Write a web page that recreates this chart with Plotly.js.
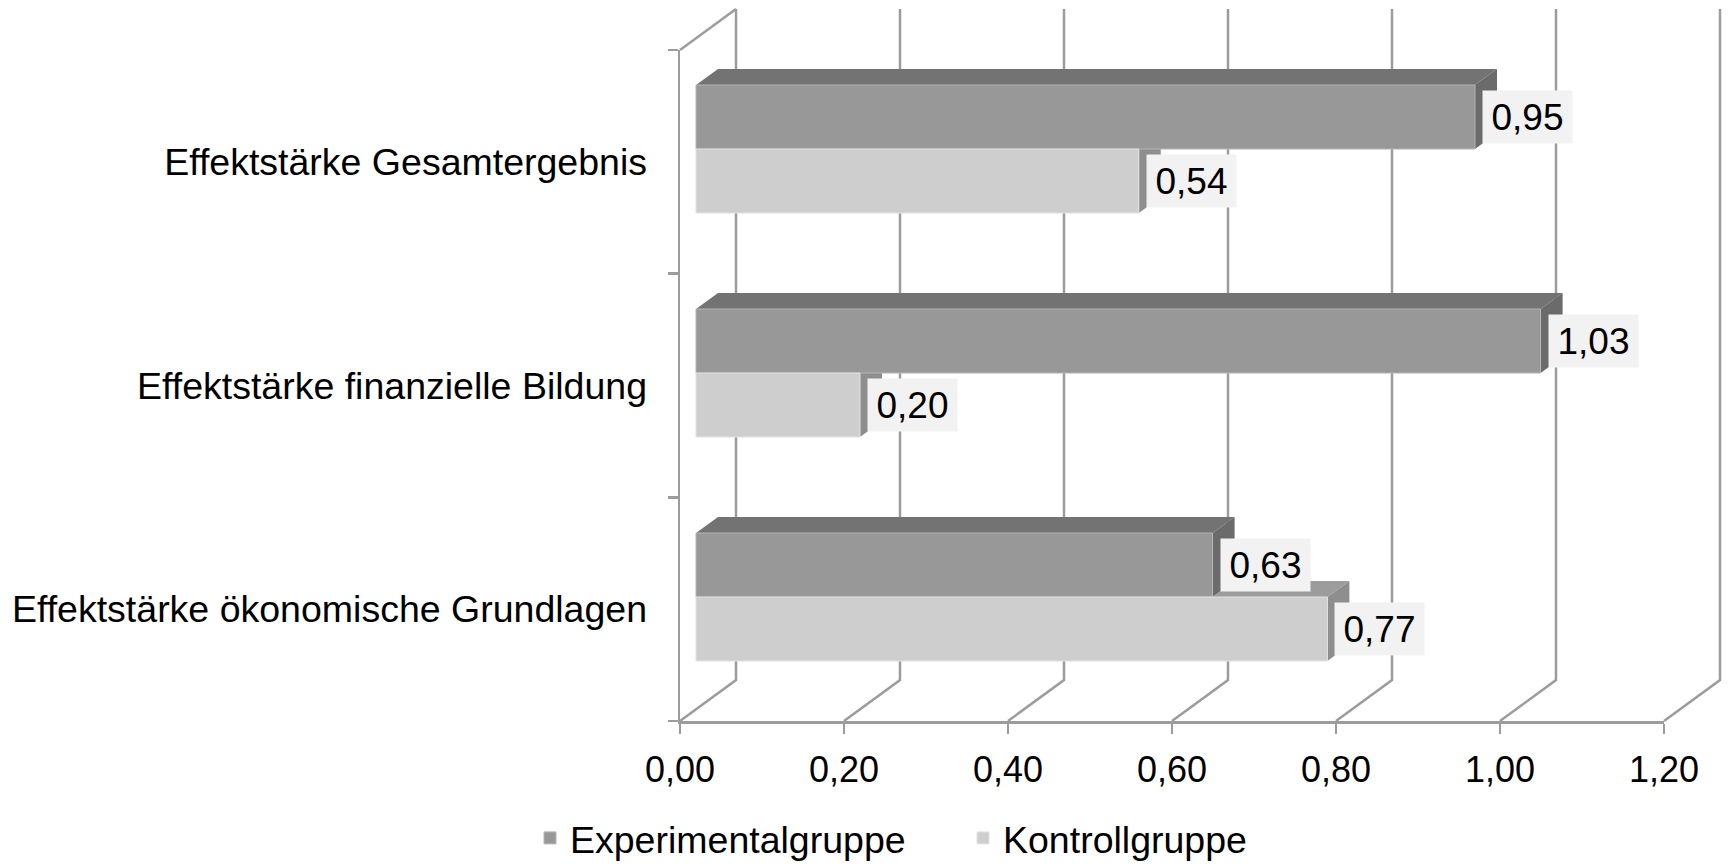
<!DOCTYPE html>
<html>
<head>
<meta charset="utf-8">
<script src="https://cdn.plot.ly/plotly-3.0.1.min.js"></script>
<style>html,body{margin:0;padding:0;background:#fff}#chart{width:1731px;height:864px}</style>
</head>
<body>
<div id="chart"></div>
<script>
// ---- data ----
const categories = ["Effektstärke Gesamtergebnis", "Effektstärke finanzielle Bildung", "Effektstärke ökonomische Grundlagen"];
const seriesNames = ["Experimentalgruppe", "Kontrollgruppe"];
const experimental = [0.95, 1.03, 0.63];
const kontroll = [0.54, 0.20, 0.77];
const xTickVals = [0, 0.2, 0.4, 0.6, 0.8, 1.0, 1.2];

// ---- geometry / style ----
const W = 1731, H = 864;
const fx = p => p / W, fy = p => 1 - p / H;
const FONT = "Liberation Sans, Arial, sans-serif";
const wallColor = "#9c9c9c";
const wallWidth = 2.5;
const frontX0 = 680, frontX1 = 1664, frontTop = 50, frontBottom = 721;
const depth = {dx: 56, dy: 41};
const barX0 = 696, barX1 = 1680, barTop = 37, barBottom = 709;
const barDepth = {dx: 22, dy: 16};
const barH = 64;
const colors = {
  exp: {front: "#989898", top: "#737373", side: "#6b6b6b", line: "#b4b4b4"},
  kon: {front: "#cecece", top: "#9c9c9c", side: "#8e8e8e", line: "#e2e2e2"}
};
const xRange = [0, 1.2];
const pxPerUnit = (barX1 - barX0) / (xRange[1] - xRange[0]);
const padPx = 45; // extra room so that wall shapes anchored on the value scale are not clipped
const barRange = [xRange[0] - padPx / pxPerUnit, xRange[1] + padPx / pxPerUnit];
const ddx = barDepth.dx / pxPerUnit;

const traces = [
  {type: "bar", orientation: "h", name: seriesNames[0], x: experimental, y: categories,
   marker: {color: colors.exp.front, line: {color: colors.exp.line, width: 1}}, hoverinfo: "none"},
  {type: "bar", orientation: "h", name: seriesNames[1], x: kontroll, y: categories,
   marker: {color: colors.kon.front, line: {color: colors.kon.line, width: 1}}, hoverinfo: "none"},
  // carrier for the front-plane axes (draws nothing)
  {type: "scatter", mode: "none", x: kontroll, y: categories, xaxis: "x2", yaxis: "y2",
   showlegend: false, hoverinfo: "skip"}
];

const shapes = [];
function face(path, color, i) {
  shapes.push({type: "path", xref: "x", yref: "y", ysizemode: "pixel", yanchor: i,
    path: path, fillcolor: color, line: {width: 0}, layer: "between"});
}
const P = (x, y) => x + "," + y;
categories.forEach((c, i) => {
  const e = experimental[i], k = kontroll[i];
  face("M" + P(0, barH) + " L" + P(e, barH) + " L" + P(e + ddx, barH + barDepth.dy) + " L" + P(ddx, barH + barDepth.dy) + " Z", colors.exp.top, i);
  face("M" + P(e, 0) + " L" + P(e, barH) + " L" + P(e + ddx, barH + barDepth.dy) + " L" + P(e + ddx, barDepth.dy) + " Z", colors.exp.side, i);
  if (k > e) {
    face("M" + P(e, 0) + " L" + P(k, 0) + " L" + P(k + ddx, barDepth.dy) + " L" + P(e + ddx, barDepth.dy) + " Z", colors.kon.top, i);
  }
  face("M" + P(k, -barH) + " L" + P(k, 0) + " L" + P(k + ddx, barDepth.dy) + " L" + P(k + ddx, -barH + barDepth.dy) + " Z", colors.kon.side, i);
});
// floor diagonals + back-wall gridlines (anchored on the value scale, below everything)
const fOff = frontX0 - barX0, bOff = frontX0 + depth.dx - barX0;
xTickVals.forEach(t => {
  shapes.push({type: "path", xref: "x", xsizemode: "pixel", xanchor: t, yref: "paper",
    path: "M" + P(fOff, fy(frontBottom)) + " L" + P(bOff, fy(frontBottom - depth.dy)) + " L" + P(bOff, fy(frontTop - depth.dy)),
    line: {color: wallColor, width: wallWidth}, layer: "below"});
});
// side wall top edge
shapes.push({type: "path", xref: "x", xsizemode: "pixel", xanchor: 0, yref: "paper",
  path: "M" + P(fOff, fy(frontTop)) + " L" + P(bOff, fy(frontTop - depth.dy)),
  line: {color: wallColor, width: wallWidth}, layer: "below"});

const fmt = v => v.toFixed(2).replace(".", ",");
const annotations = [];
categories.forEach((c, i) => {
  [[experimental[i], barH / 2], [kontroll[i], -barH / 2]].forEach(([v, sh]) => {
    annotations.push({xref: "x", yref: "y", x: v, y: i, text: fmt(v), showarrow: false,
      xanchor: "left", yanchor: "middle", xshift: 7, yshift: sh,
      bgcolor: "#f2f2f2", borderpad: 6, width: 77, height: 40,
      font: {family: FONT, size: 37, color: "#000"}});
  });
});

const layout = {
  width: W, height: H, margin: {l: 0, r: 0, t: 0, b: 0, autoexpand: false},
  paper_bgcolor: "#fff", plot_bgcolor: "rgba(0,0,0,0)",
  font: {family: FONT, size: 37, color: "#000"},
  separators: ",.",
  barmode: "group", bargap: 1 - 2 * barH / ((barBottom - barTop) / 3), bargroupgap: 0,
  showlegend: true,
  legend: {orientation: "h", x: fx(530), xanchor: "left", y: fy(838), yanchor: "middle",
    traceorder: "normal", entrywidth: 388, entrywidthmode: "pixels",
    font: {family: FONT, size: 37.5}},
  // bars plane
  xaxis: {domain: [fx(barX0 - padPx), fx(barX1 + padPx)], range: barRange, anchor: "y", visible: false, fixedrange: true},
  yaxis: {domain: [fy(barBottom), fy(barTop)], type: "category", categoryorder: "array", categoryarray: categories,
    range: [2.5, -0.5], anchor: "x", visible: false, fixedrange: true},
  // front plane
  xaxis2: {domain: [fx(frontX0), fx(frontX1)], range: xRange, anchor: "y2", tickvals: xTickVals,
    ticktext: xTickVals.map(fmt), ticks: "outside", ticklen: 10, tickwidth: wallWidth, tickcolor: wallColor,
    showline: true, linecolor: wallColor, linewidth: wallWidth, showgrid: false, zeroline: false,
    tickfont: {family: FONT, size: 36, color: "#000"}, ticklabelstandoff: 5, fixedrange: true},
  yaxis2: {domain: [fy(frontBottom), fy(frontTop)], type: "category", categoryorder: "array", categoryarray: categories,
    tickvals: categories, range: [2.5, -0.5], anchor: "x2", tickson: "boundaries", ticks: "outside", ticklen: 10, tickwidth: wallWidth,
    tickcolor: wallColor, showline: true, linecolor: wallColor, linewidth: wallWidth, showgrid: false, zeroline: false,
    tickfont: {family: FONT, size: 37.5, color: "#000"}, ticklabelstandoff: 23, fixedrange: true},
  shapes: shapes,
  annotations: annotations
};

Plotly.newPlot("chart", traces, layout, {displayModeBar: false, staticPlot: true});
</script>
</body>
</html>
